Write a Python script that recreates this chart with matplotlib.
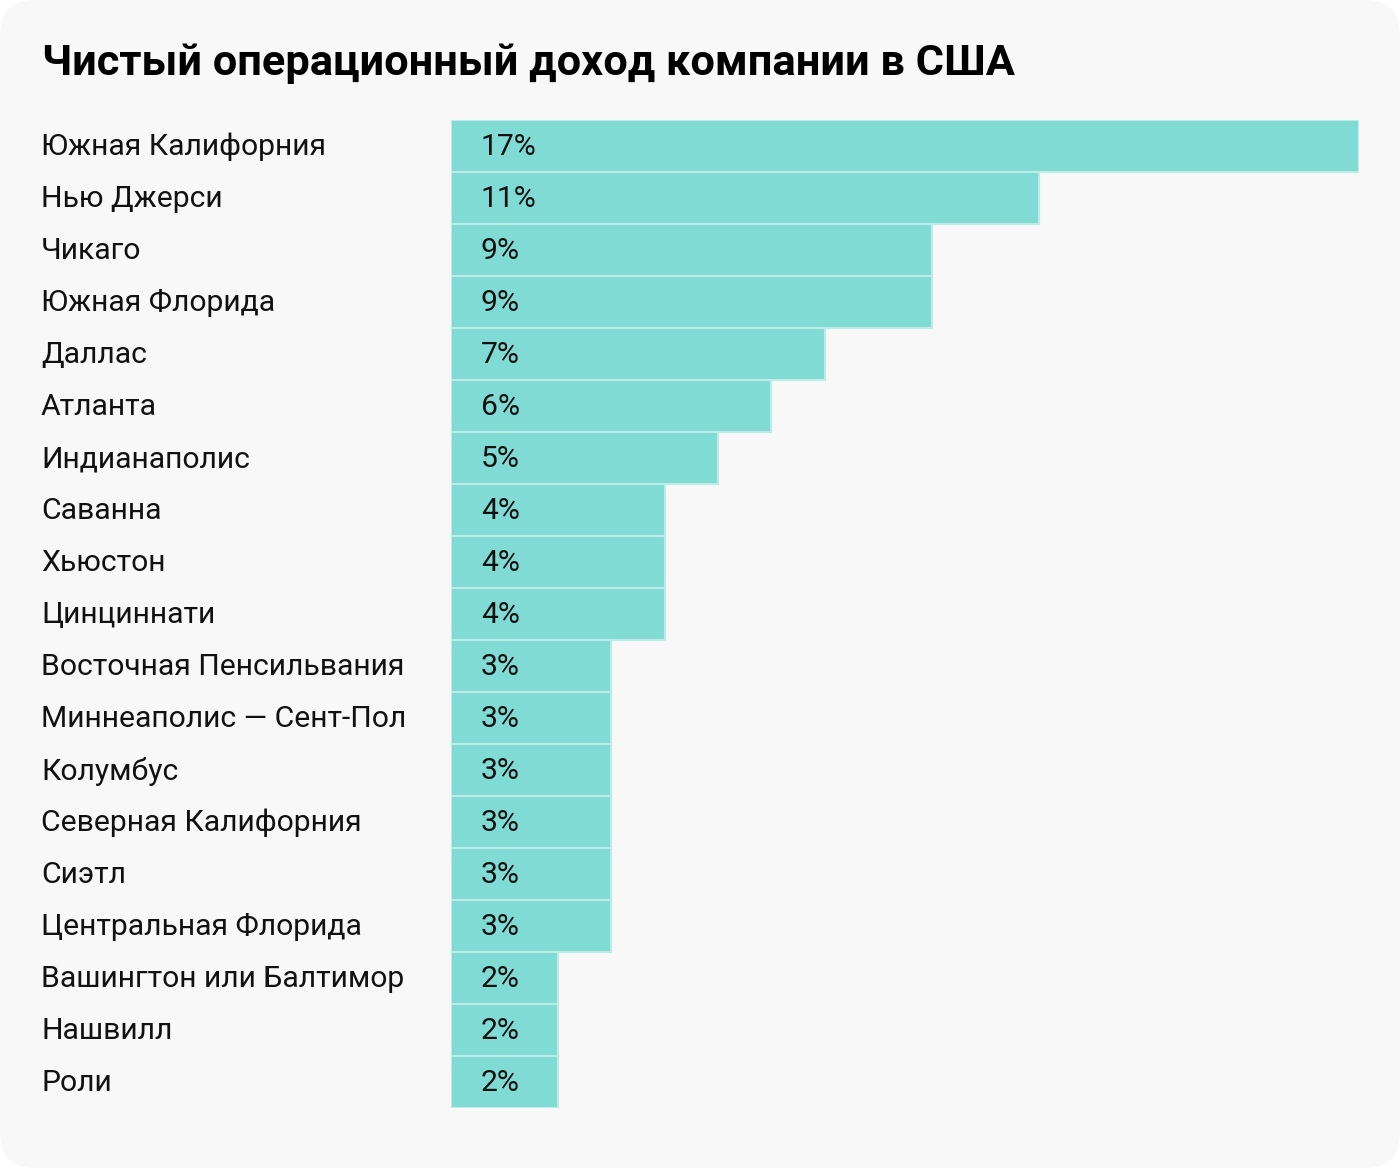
import matplotlib.pyplot as plt
import matplotlib.transforms as mtransforms
from matplotlib.patches import FancyBboxPatch

# Data
regions = ["Южная Калифорния", "Нью Джерси", "Чикаго", "Южная Флорида", "Даллас",
           "Атланта", "Индианаполис", "Саванна", "Хьюстон", "Цинциннати",
           "Восточная Пенсильвания", "Миннеаполис — Сент-Пол", "Колумбус",
           "Северная Калифорния", "Сиэтл", "Центральная Флорида",
           "Вашингтон или Балтимор", "Нашвилл", "Роли"]
shares = [17, 11, 9, 9, 7, 6, 5, 4, 4, 4, 3, 3, 3, 3, 3, 3, 2, 2, 2]
title = "Чистый операционный доход компании в США"

plt.rcParams['font.family'] = ['Roboto', 'DejaVu Sans']

W, H = 1400, 1168
fig = plt.figure(figsize=(W / 100, H / 100), dpi=100)
fig.patch.set_facecolor("white")

# rounded light background card
bg = FancyBboxPatch((0, 0), 1, 1, boxstyle="round,pad=0,rounding_size=0.025",
                    transform=fig.transFigure, facecolor="#f8f8f8", edgecolor="none",
                    mutation_aspect=W / H, zorder=-10)
fig.patches.append(bg)

fig.text(42 / W, 1 - 64 / H, title, fontsize=31.2, fontweight="bold", va="center", ha="left")

ax = fig.add_axes([451 / W, (H - 1108) / H, 908 / W, (1108 - 120) / H])
ax.set_facecolor("none")
n = len(regions)
ypos = list(range(n))
ax.barh(ypos, shares, height=1.0, color="#81dbd5", edgecolor="#bdece8", linewidth=1.5)
ax.set_xlim(0, 17)
ax.set_ylim(n - 0.5, -0.5)
ax.axis("off")

# region names: x in figure coords, y in data coords
name_tr = mtransforms.blended_transform_factory(fig.transFigure, ax.transData)
for y, name, v in zip(ypos, regions, shares):
    ax.text(41 / W, y + 0.02, name, transform=name_tr, fontsize=21.7,
            va="center", ha="left", color="#111111", clip_on=False)
    ax.text(0.56, y + 0.02, "{0}%".format(v), fontsize=21.7, va="center", ha="left", color="#111111")

fig.savefig("out.png", dpi=100, facecolor=fig.get_facecolor())
